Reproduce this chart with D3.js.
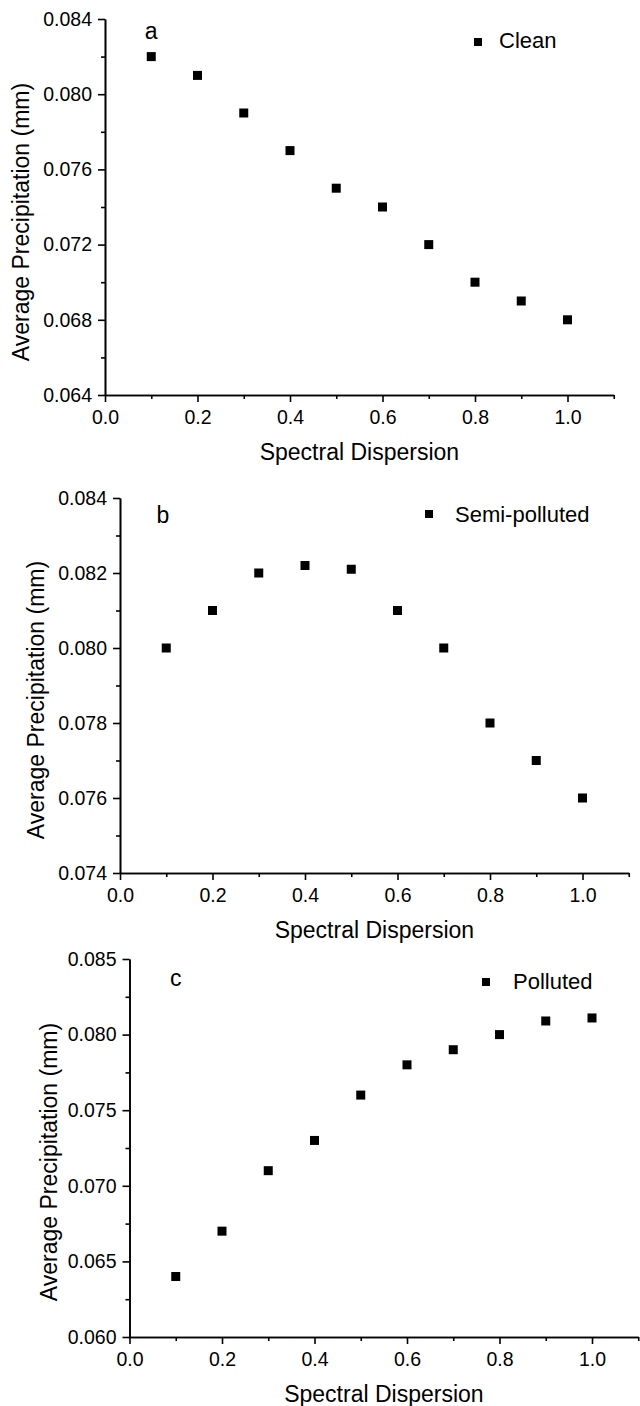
<!DOCTYPE html>
<html>
<head>
<meta charset="utf-8">
<script src="https://cdn.jsdelivr.net/npm/d3@7"></script>
<style>
  body { margin: 0; background: #fff; }
  text { font-family: "Liberation Sans", Arial, sans-serif; fill: #000; }
  .axis path, .axis line { stroke: #000; stroke-width: 1.6; }
  .axis text { font-size: 19.5px; }
</style>
</head>
<body>
<div id="chart"></div>
<script>
// spectral dispersion values (same for all three panels)
var dispersion = [0.1, 0.2, 0.3, 0.4, 0.5, 0.6, 0.7, 0.8, 0.9, 1.0]

// average precipitation (mm)
var cleanPrecip = [0.082, 0.081, 0.079, 0.077, 0.075, 0.074, 0.072, 0.070, 0.069, 0.068]
var semiPrecip = [0.080, 0.081, 0.082, 0.0822, 0.0821, 0.081, 0.080, 0.078, 0.077, 0.076]
var pollutedPrecip = [0.064, 0.067, 0.071, 0.073, 0.076, 0.078, 0.079, 0.080, 0.0809, 0.0811]

var panelLetters = ["a", "b", "c"]
var legendNames = ["Clean", "Semi-polluted", "Polluted"]

var xTicks = [0.0, 0.2, 0.4, 0.6, 0.8, 1.0]
var xMinor = [0.1, 0.3, 0.5, 0.7, 0.9, 1.1]
var yTicksA = [0.064, 0.068, 0.072, 0.076, 0.080, 0.084]
var yMinorA = [0.066, 0.070, 0.074, 0.078, 0.082]
var yTicksB = [0.074, 0.076, 0.078, 0.080, 0.082, 0.084]
var yMinorB = [0.075, 0.077, 0.079, 0.081, 0.083]
var yTicksC = [0.060, 0.065, 0.070, 0.075, 0.080, 0.085]
var yMinorC = [0.0625, 0.0675, 0.0725, 0.0775, 0.0825]

var xTitle = "Spectral Dispersion"
var yTitle = "Average Precipitation (mm)"

// layout of each panel (pixel positions of the axes frame etc.)
var panels = [
  { values: cleanPrecip, yTicks: yTicksA, yMinor: yMinorA, left: 105, top: 19, bottom: 395,
    letter: [0.1, 39], legend: [478, 42, 499, 48], yTitleX: 29, yTitleY: 222 },
  { values: semiPrecip, yTicks: yTicksB, yMinor: yMinorB, left: 120, top: 498, bottom: 873,
    letter: [0.093, 523], legend: [429, 514, 455, 522], yTitleX: 44, yTitleY: 700 },
  { values: pollutedPrecip, yTicks: yTicksC, yMinor: yMinorC, left: 129.5, top: 959, bottom: 1337,
    letter: [0.1, 986], legend: [486, 982, 513, 989], yTitleX: 57, yTitleY: 1162 }
]

var unit = 462.5 // pixels per 1.0 on x

var svg = d3.select("#chart").append("svg")
    .attr("width", 640)
    .attr("height", 1406)

panels.forEach(function(p, i){
  var xScale = d3.scaleLinear()
      .domain([0, 1.1])
      .range([p.left, p.left + 1.1 * unit])

  var yScale = d3.scaleLinear()
      .domain([p.yTicks[0], p.yTicks[p.yTicks.length - 1]])
      .range([p.bottom, p.top])

  var g = svg.append("g").attr("class", "panel")

  // minor ticks first, no labels
  g.append("g")
      .attr("class", "axis")
      .attr("transform", "translate(0," + p.bottom + ")")
      .call(d3.axisBottom(xScale).tickValues(xMinor).tickSize(4).tickFormat("").tickSizeOuter(0))
  g.append("g")
      .attr("class", "axis")
      .attr("transform", "translate(" + p.left + ",0)")
      .call(d3.axisLeft(yScale).tickValues(p.yMinor).tickSize(4).tickFormat("").tickSizeOuter(0))

  g.append("g")
      .attr("class", "axis")
      .attr("transform", "translate(0," + p.bottom + ")")
      .call(d3.axisBottom(xScale).tickValues(xTicks).tickSize(7).tickPadding(8)
        .tickFormat(d3.format(".1f")).tickSizeOuter(0))

  g.append("g")
      .attr("class", "axis")
      .attr("transform", "translate(" + p.left + ",0)")
      .call(d3.axisLeft(yScale).tickValues(p.yTicks).tickSize(7).tickPadding(6)
        .tickFormat(d3.format(".3f")).tickSizeOuter(0))

  // axis titles
  g.append("text")
      .attr("x", xScale(0.55))
      .attr("y", p.bottom + 65)
      .attr("text-anchor", "middle")
      .style("font-size", "23px")
      .text(xTitle)

  g.append("text")
      .attr("transform", "translate(" + p.yTitleX + "," + p.yTitleY + ") rotate(-90)")
      .attr("text-anchor", "middle")
      .style("font-size", "23px")
      .text(yTitle)

  // panel letter
  g.append("text")
      .attr("x", xScale(p.letter[0]))
      .attr("y", p.letter[1])
      .attr("text-anchor", "middle")
      .style("font-size", "23px")
      .text(panelLetters[i])

  // points
  g.selectAll(".pt")
      .data(p.values)
    .enter().append("rect")
      .attr("class", "pt")
      .attr("width", 9)
      .attr("height", 9)
      .attr("x", function(d, j){ return xScale(dispersion[j]) - 4.5 })
      .attr("y", function(d){ return yScale(d) - 4.5 })
      .attr("fill", "#000")

  // legend
  g.append("rect")
      .attr("x", p.legend[0] - 4)
      .attr("y", p.legend[1] - 4)
      .attr("width", 8)
      .attr("height", 8)
      .attr("fill", "#000")
  g.append("text")
      .attr("x", p.legend[2])
      .attr("y", p.legend[3])
      .style("font-size", "22px")
      .text(legendNames[i])
})
</script>
</body>
</html>
